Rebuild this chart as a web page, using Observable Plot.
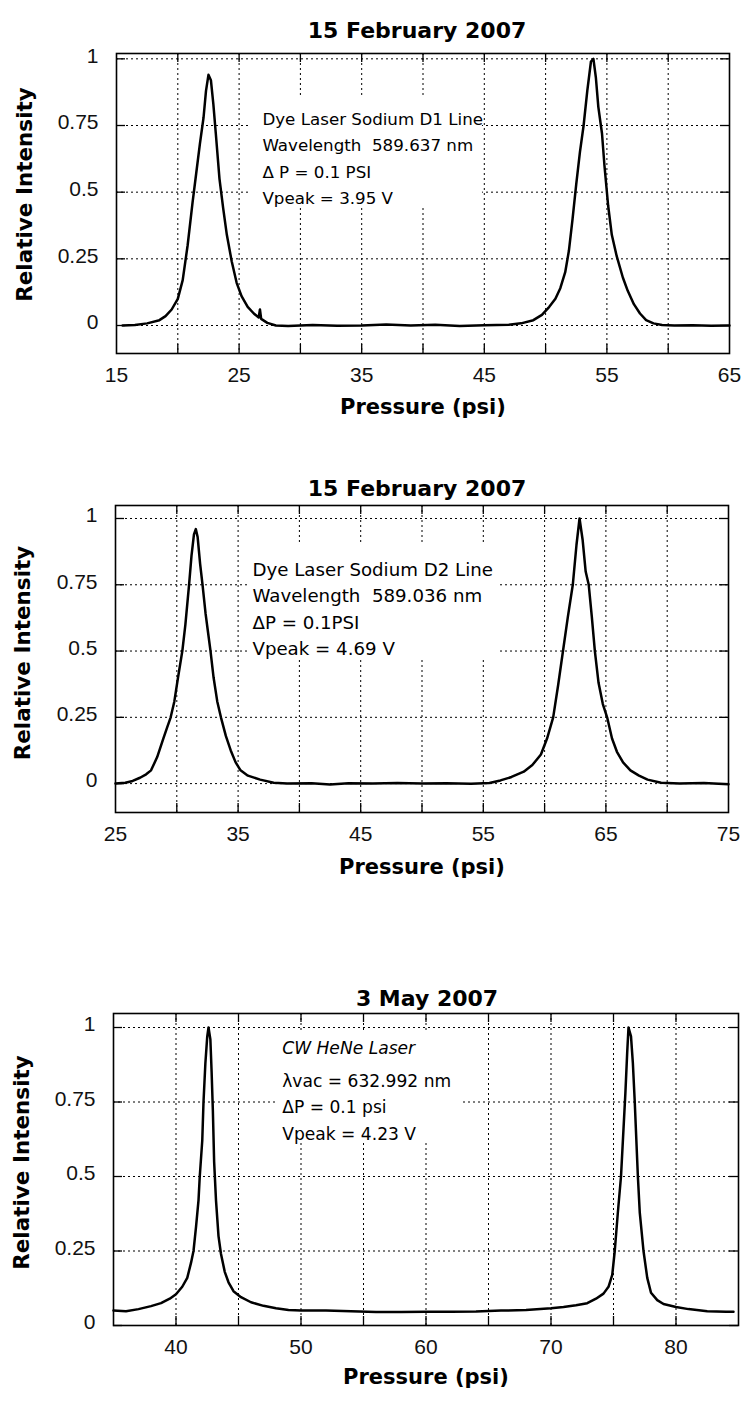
<!DOCTYPE html>
<html>
<head>
<meta charset="utf-8">
<script src="https://cdn.jsdelivr.net/npm/d3@7"></script>
<script src="https://cdn.jsdelivr.net/npm/@observablehq/plot@0.6"></script>
<style>
  body { margin: 0; background: #fff; }
  #page { position: relative; width: 743px; height: 1403px; overflow: hidden; background: #fff; }
  #page svg { position: absolute; left: 0; }
</style>
</head>
<body>
<div id="page"></div>
<script>
// ---- Sodium D1 scan, 15 February 2007 ----
const d1Pressure = [15.5, 16.5, 17.5, 18.5, 19.0, 19.5, 20.0, 20.4, 20.8, 21.2, 21.5, 21.8, 22.1, 22.3, 22.5, 22.7, 22.9, 23.1, 23.4, 23.7, 24.0, 24.4, 24.8, 25.2, 25.7, 26.2, 26.6, 26.7, 26.8, 27.3, 28.0, 29, 31, 33, 35, 37, 39, 41, 43, 45, 47, 48, 49, 49.7, 50.3, 50.8, 51.2, 51.6, 51.9, 52.2, 52.5, 52.8, 53.1, 53.4, 53.7, 53.9, 54.1, 54.3, 54.6, 54.8, 55.1, 55.4, 55.8, 56.3, 56.7, 57.2, 57.7, 58.2, 58.8, 59.5, 60.5, 62, 63.5, 65];
const d1Intensity = [0.0, 0.002, 0.008, 0.02, 0.035, 0.06, 0.10, 0.17, 0.30, 0.46, 0.57, 0.68, 0.78, 0.88, 0.94, 0.92, 0.83, 0.72, 0.55, 0.44, 0.34, 0.24, 0.16, 0.11, 0.07, 0.045, 0.03, 0.06, 0.025, 0.01, 0.0, -0.002, 0.002, -0.001, 0.0, 0.004, 0.0, 0.003, -0.002, 0.001, 0.003, 0.008, 0.02, 0.04, 0.07, 0.10, 0.14, 0.20, 0.28, 0.40, 0.53, 0.65, 0.75, 0.88, 0.99, 1.0, 0.93, 0.82, 0.72, 0.60, 0.45, 0.34, 0.26, 0.18, 0.13, 0.08, 0.045, 0.02, 0.008, 0.002, 0.0, 0.001, -0.001, 0.0];
const d1XTicks = [15, 25, 35, 45, 55, 65];
const d1XGrid = [20, 25, 30, 35, 40, 45, 50, 55, 60];
const d1Note = ["Dye Laser Sodium D1 Line", "Wavelength\u00A0 589.637 nm", "\u0394 P = 0.1 PSI", "Vpeak = 3.95 V"];

// ---- Sodium D2 scan, 15 February 2007 ----
const d2Pressure = [25.0, 25.8, 26.4, 27.0, 27.5, 27.9, 28.4, 28.9, 29.2, 29.5, 29.8, 30.1, 30.45, 30.7, 31.0, 31.2, 31.4, 31.55, 31.7, 31.9, 32.1, 32.35, 32.55, 32.75, 33.0, 33.3, 33.6, 34.0, 34.4, 34.8, 35.2, 35.8, 36.8, 37.9, 39, 41, 42.5, 44, 46, 48, 50, 52, 54, 55.5, 56.4, 57.3, 58.3, 59.0, 59.7, 60.2, 60.7, 61.1, 61.5, 61.9, 62.3, 62.6, 62.85, 63.1, 63.35, 63.6, 63.85, 64.1, 64.4, 64.75, 65.1, 65.5, 65.9, 66.4, 67.0, 67.7, 68.4, 69.5, 71, 73, 75];
const d2Intensity = [0.0, 0.003, 0.01, 0.022, 0.035, 0.05, 0.10, 0.17, 0.21, 0.25, 0.31, 0.40, 0.50, 0.60, 0.75, 0.86, 0.94, 0.96, 0.93, 0.83, 0.75, 0.64, 0.57, 0.50, 0.40, 0.31, 0.25, 0.18, 0.125, 0.08, 0.05, 0.03, 0.015, 0.003, 0.0, 0.001, -0.003, 0.001, 0.0, 0.002, 0.0, 0.001, -0.001, 0.002, 0.012, 0.025, 0.045, 0.07, 0.11, 0.17, 0.25, 0.37, 0.50, 0.63, 0.75, 0.90, 1.0, 0.92, 0.80, 0.75, 0.63, 0.50, 0.38, 0.30, 0.25, 0.17, 0.12, 0.08, 0.05, 0.03, 0.015, 0.003, 0.0, 0.002, -0.002];
const d2XTicks = [25, 35, 45, 55, 65, 75];
const d2XGrid = [30, 35, 40, 45, 50, 55, 60, 65, 70];
const d2Note = ["Dye Laser Sodium D2 Line", "Wavelength\u00A0 589.036 nm", "\u0394P = 0.1PSI", "Vpeak = 4.69 V"];

// ---- HeNe scan, 3 May 2007 ----
const heNePressure = [35.0, 36.0, 37.0, 38.0, 38.8, 39.5, 40.0, 40.5, 40.9, 41.2, 41.4, 41.6, 41.8, 41.9, 42.1, 42.2, 42.35, 42.5, 42.6, 42.75, 42.85, 42.95, 43.05, 43.2, 43.4, 43.6, 43.9, 44.2, 44.6, 45.2, 46.0, 47.0, 48.0, 49.0, 50.0, 52, 54, 56, 58, 60, 62, 64, 66, 68, 70, 71, 72, 72.9, 73.6, 74.2, 74.6, 74.9, 75.1, 75.35, 75.6, 75.8, 75.95, 76.1, 76.2, 76.4, 76.55, 76.7, 76.85, 76.95, 77.1, 77.4, 77.7, 78.0, 78.5, 79.0, 80.0, 81.0, 82.5, 84.0, 84.6];
const heNeIntensity = [0.050, 0.048, 0.055, 0.065, 0.075, 0.090, 0.105, 0.13, 0.16, 0.21, 0.25, 0.33, 0.42, 0.50, 0.62, 0.75, 0.88, 0.97, 1.0, 0.96, 0.85, 0.72, 0.55, 0.42, 0.30, 0.24, 0.18, 0.145, 0.115, 0.095, 0.078, 0.066, 0.058, 0.052, 0.050, 0.050, 0.048, 0.045, 0.045, 0.046, 0.046, 0.047, 0.050, 0.052, 0.058, 0.062, 0.068, 0.075, 0.090, 0.107, 0.13, 0.17, 0.25, 0.38, 0.50, 0.66, 0.78, 0.92, 1.0, 0.97, 0.88, 0.75, 0.60, 0.50, 0.38, 0.25, 0.16, 0.11, 0.085, 0.072, 0.062, 0.055, 0.048, 0.046, 0.046];
const heNeXTicks = [40, 50, 60, 70, 80];
const heNeXGrid = [40, 45, 50, 55, 60, 65, 70, 75, 80];
const heNeNote = ["CW HeNe Laser", "\u03BBvac = 632.992 nm", "\u0394P = 0.1 psi", "Vpeak = 4.23 V"];

const yTicks = [0, 0.25, 0.5, 0.75, 1];
const xLabel = "Pressure (psi)";
const yLabel = "Relative Intensity";

const titleFont = "'DejaVu Sans', Verdana, sans-serif";
const tickFont = "'Liberation Sans', Arial, sans-serif";

// layout of each panel on the page
const panels = [
  {
    title: "15 February 2007", pressure: d1Pressure, intensity: d1Intensity,
    xTicks: d1XTicks, xGrid: d1XGrid, note: d1Note, italicFirst: false,
    xDomain: [15, 65], yDomain: [-0.105, 1.02],
    top: 0, height: 430, margin: {top: 53, right: 14, bottom: 77, left: 116},
    titleDy: -31, titleDx: -6, xLabelDy: 60, yLabelDx: -91, yLabelDy: -9,
    noteAt: [26.9, 0.824], noteFont: 16.7, noteBox: [25.9, 44.85, 0.44, 0.855]
  },
  {
    title: "15 February 2007", pressure: d2Pressure, intensity: d2Intensity,
    xTicks: d2XTicks, xGrid: d2XGrid, note: d2Note, italicFirst: false,
    xDomain: [25, 75], yDomain: [-0.109, 1.049],
    top: 460, height: 440, margin: {top: 45, right: 15, bottom: 88, left: 115},
    titleDy: -25, titleDx: -5, xLabelDy: 61, yLabelDx: -92, yLabelDy: -6,
    noteAt: [36.17, 0.855], noteFont: 18.2, noteBox: [35.8, 56.2, 0.475, 0.906]
  },
  {
    title: "3 May 2007", pressure: heNePressure, intensity: heNeIntensity,
    xTicks: heNeXTicks, xGrid: heNeXGrid, note: heNeNote, italicFirst: true,
    xDomain: [35, 85], yDomain: [0, 1.047],
    top: 960, height: 443, margin: {top: 53, right: 5, bottom: 78, left: 113},
    titleDy: -23, titleDx: 1, xLabelDy: 58, yLabelDx: -91, yLabelDy: -7,
    noteAt: [48.5, 0.953], noteFont: 17.1, noteBox: [48.2, 62.8, 0.614, 0.983]
  }
];

const page = document.getElementById("page");
const width = 743;
const lineGap = 26.5; // px between annotation lines

for (const p of panels) {
  const rows = p.pressure.map((x, i) => ({pressure: x, intensity: p.intensity[i]}));
  const m = p.margin;
  const frameW = width - m.left - m.right;
  const frameH = p.height - m.top - m.bottom;
  const tickLen = 9;
  const [bx1, bx2, by1, by2] = p.noteBox;

  const noteMarks = [];
  const noteStyle = {fontFamily: titleFont, fontSize: p.noteFont, textAnchor: "start", lineAnchor: "top", fill: "#000"};
  if (p.italicFirst) {
    noteMarks.push(Plot.text([p.note[0]], {...noteStyle, text: d => d, x: () => p.noteAt[0], y: () => p.noteAt[1], fontStyle: "italic"}));
    noteMarks.push(Plot.text([p.note.slice(1).join("\n")], {...noteStyle, text: d => d, x: () => p.noteAt[0], y: () => p.noteAt[1], dy: lineGap, lineHeight: lineGap / p.noteFont}));
  } else {
    noteMarks.push(Plot.text([p.note.join("\n")], {...noteStyle, text: d => d, x: () => p.noteAt[0], y: () => p.noteAt[1], lineHeight: lineGap / p.noteFont}));
  }

  const chart = Plot.plot({
    width,
    height: p.height,
    marginTop: m.top, marginRight: m.right, marginBottom: m.bottom, marginLeft: m.left,
    style: {fontFamily: tickFont, fontSize: "21px", color: "#000", background: "#fff", overflow: "visible"},
    x: {domain: p.xDomain, label: null},
    y: {domain: p.yDomain, label: null},
    marks: [
      // dotted grid
      Plot.gridX(p.xGrid, {stroke: "#000", strokeOpacity: 1, strokeWidth: 1, strokeDasharray: "2,3"}),
      Plot.gridY(yTicks, {stroke: "#000", strokeOpacity: 1, strokeWidth: 1, strokeDasharray: "2,3"}),
      // blank panel behind the annotation
      Plot.rect([p.noteBox], {x1: () => bx1, x2: () => bx2, y1: () => by1, y2: () => by2, fill: "#fff"}),
      // short inward tick marks on all four sides
      Plot.ruleX(p.xGrid, {x: d => d, insetTop: frameH - tickLen, stroke: "#000", strokeWidth: 1.3}),
      Plot.ruleX(p.xGrid, {x: d => d, insetBottom: frameH - tickLen, stroke: "#000", strokeWidth: 1.3}),
      Plot.ruleY(yTicks, {y: d => d, insetRight: frameW - tickLen, stroke: "#000", strokeWidth: 1.3}),
      Plot.ruleY(yTicks, {y: d => d, insetLeft: frameW - tickLen, stroke: "#000", strokeWidth: 1.3}),
      Plot.frame({stroke: "#000", strokeWidth: 1.6}),
      // axes
      Plot.axisX(p.xTicks, {anchor: "bottom", tickSize: 0, tickPadding: 14, label: null, tickFormat: d => String(d), fontSize: 21, fill: "#111"}),
      Plot.axisY(yTicks, {anchor: "left", tickSize: 0, tickPadding: 18, label: null, tickFormat: d => String(d), fontSize: 21, fill: "#111", dy: -3}),
      // signal trace
      Plot.line(rows, {x: "pressure", y: "intensity", stroke: "#000", strokeWidth: 2.5, strokeLinejoin: "round"}),
      // annotation
      ...noteMarks,
      // titles and axis labels
      Plot.text([p.title], {text: d => d, frameAnchor: "top", dy: p.titleDy, dx: p.titleDx, fontFamily: titleFont, fontWeight: "bold", fontSize: 22, fill: "#000"}),
      Plot.text([xLabel], {text: d => d, frameAnchor: "bottom", dy: p.xLabelDy, fontFamily: titleFont, fontWeight: "bold", fontSize: 21, fill: "#000"}),
      Plot.text([yLabel], {text: d => d, frameAnchor: "left", textAnchor: "middle", dx: p.yLabelDx, dy: p.yLabelDy, rotate: -90, fontFamily: titleFont, fontWeight: "bold", fontSize: 21.5, fill: "#000"})
    ]
  });
  chart.style.top = p.top + "px";
  page.appendChild(chart);
}
</script>
</body>
</html>
